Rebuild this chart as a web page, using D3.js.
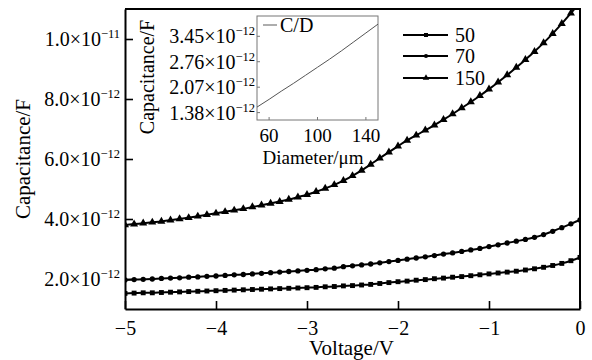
<!DOCTYPE html>
<html><head><meta charset="utf-8">
<script src="https://cdn.jsdelivr.net/npm/d3@7"></script>
<style>
body{margin:0;background:#fff}
text{font-family:"Liberation Serif","Times New Roman",serif;fill:#000}
</style>
</head><body>
<svg id="c" width="592" height="360"></svg>
<script>
// Voltage (V)
const voltage = [-5.0,-4.9,-4.8,-4.7,-4.6,-4.5,-4.4,-4.3,-4.2,-4.1,-4.0,-3.9,-3.8,-3.7,-3.6,-3.5,-3.4,-3.3,-3.2,-3.1,-3.0,-2.9,-2.8,-2.7,-2.6,-2.5,-2.4,-2.3,-2.2,-2.1,-2.0,-1.9,-1.8,-1.7,-1.6,-1.5,-1.4,-1.3,-1.2,-1.1,-1.0,-0.9,-0.8,-0.7,-0.6,-0.5,-0.4,-0.3,-0.2,-0.1,0.0];
// Capacitance in units of 1e-12 F
const cap50 = [1.52,1.53,1.54,1.54,1.55,1.56,1.57,1.58,1.59,1.60,1.61,1.62,1.63,1.64,1.65,1.66,1.67,1.68,1.69,1.70,1.71,1.72,1.74,1.75,1.77,1.78,1.80,1.82,1.85,1.88,1.91,1.93,1.96,1.98,2.01,2.03,2.06,2.08,2.11,2.14,2.17,2.20,2.23,2.26,2.30,2.34,2.39,2.45,2.52,2.61,2.72];
const cap70 = [1.97,1.98,1.99,2.00,2.02,2.03,2.04,2.06,2.07,2.09,2.10,2.12,2.14,2.15,2.17,2.19,2.21,2.23,2.25,2.27,2.29,2.31,2.34,2.36,2.41,2.44,2.47,2.50,2.54,2.58,2.62,2.66,2.70,2.74,2.78,2.83,2.87,2.92,2.97,3.02,3.08,3.14,3.20,3.26,3.32,3.39,3.48,3.59,3.71,3.84,3.97];
const cap150 = [3.80,3.83,3.86,3.89,3.92,3.96,4.00,4.04,4.09,4.14,4.19,4.24,4.29,4.34,4.40,4.46,4.52,4.58,4.65,4.73,4.81,4.91,5.02,5.14,5.28,5.44,5.62,5.82,6.03,6.23,6.43,6.62,6.79,6.96,7.13,7.31,7.50,7.70,7.90,8.11,8.33,8.56,8.80,9.05,9.31,9.58,9.87,10.18,10.51,10.86,11.22];
const seriesNames = ["50","70","150"];
const seriesSymbols = ["square","circle","triangle"];

const xTicks = [-5,-4,-3,-2,-1,0];
const xTickLabels = ["\u22125","\u22124","\u22123","\u22122","\u22121","0"];
const yTicks = [2,4,6,8,10];
const yTickMant = ["2.0\u00d710","4.0\u00d710","6.0\u00d710","8.0\u00d710","1.0\u00d710"];
const yTickExp = ["\u221212","\u221212","\u221212","\u221212","\u221211"];

// Inset: capacitance/diameter
const diameter = [50,60,70,80,90,100,110,120,130,140,150];
const insetCap = [1.53,1.74,1.96,2.17,2.39,2.61,2.83,3.06,3.30,3.54,3.78];
const insetXTicks = [60,100,140];
const insetYTicks = [1.38,2.07,2.76,3.45];
const insetYMant = ["1.38\u00d710","2.07\u00d710","2.76\u00d710","3.45\u00d710"];
const insetYExp = ["\u221212","\u221212","\u221212","\u221212"];

const FS = 20, FE = 12.5;
const svg = d3.select("#c");
const L=125,R=580,T=9,B=309;
const x = d3.scaleLinear().domain([-5,0]).range([L,R]);
const y = d3.scaleLinear().domain([1,11]).range([B,T]);

svg.append("clipPath").attr("id","clip").append("rect")
  .attr("x",L).attr("y",T).attr("width",R-L).attr("height",B-T);

// frame (top, right)
svg.append("path").attr("d",`M${L},${T}H${R}V${B}`).attr("fill","none").attr("stroke","#000").attr("stroke-width",2);

// x axis
const gx = svg.append("g").attr("transform",`translate(0,${B})`)
  .call(d3.axisBottom(x).tickValues(xTicks).tickSize(-8).tickSizeOuter(0).tickPadding(12)
  .tickFormat((d,i)=>xTickLabels[i]));
gx.select(".domain").attr("stroke-width",2);
gx.selectAll(".tick line").attr("stroke-width",1.6);
gx.selectAll("text").attr("font-size",FS).attr("font-family","Liberation Serif");

// y axis
const gy = svg.append("g").attr("transform",`translate(${L},0)`)
  .call(d3.axisLeft(y).tickValues(yTicks).tickSize(-8).tickSizeOuter(0).tickFormat(""));
gy.select(".domain").attr("stroke-width",2);
gy.selectAll(".tick line").attr("stroke-width",1.6);
yTicks.forEach((v,i)=>{
  const t = svg.append("text").attr("x",120).attr("y",y(v)+7).attr("text-anchor","end").attr("font-size",FS);
  t.append("tspan").text(yTickMant[i]);
  t.append("tspan").attr("font-size",FE).attr("dy",-8).text(yTickExp[i]);
});

// axis titles
svg.append("text").attr("x",(L+R)/2-1).attr("y",355).attr("text-anchor","middle").attr("font-size",21).text("Voltage/V");
svg.append("text").attr("transform",`translate(30,${(T+B)/2}) rotate(-90)`).attr("text-anchor","middle").attr("font-size",21).text("Capacitance/F");

// series
const allSeries = [cap50,cap70,cap150];
const line = d3.line().x((d,i)=>x(voltage[i])).y(d=>y(d)).curve(d3.curveMonotoneX);
const symType = {square:d3.symbolSquare,circle:d3.symbolCircle,triangle:d3.symbolTriangle};
const symSize = {square:24,circle:22,triangle:28};
const legSize = {square:16,circle:14,triangle:18};
const plot = svg.append("g").attr("clip-path","url(#clip)");
allSeries.forEach((s,k)=>{
  plot.append("path").datum(s).attr("d",line).attr("fill","none").attr("stroke","#000").attr("stroke-width",2);
  const sym = d3.symbol().type(symType[seriesSymbols[k]]).size(symSize[seriesSymbols[k]]);
  plot.selectAll(null).data(s).enter().append("path")
    .attr("d",sym).attr("transform",(d,i)=>`translate(${x(voltage[i])},${y(d)})`).attr("fill","#000");
});

// legend
const legY = [35,56,78];
seriesNames.forEach((n,k)=>{
  svg.append("line").attr("x1",403).attr("x2",448).attr("y1",legY[k]).attr("y2",legY[k]).attr("stroke","#000").attr("stroke-width",2);
  const sym = d3.symbol().type(symType[seriesSymbols[k]]).size(legSize[seriesSymbols[k]]);
  svg.append("path").attr("d",sym).attr("transform",`translate(426,${legY[k]})`).attr("fill","#000");
  svg.append("text").attr("x",455).attr("y",legY[k]+7).attr("font-size",FS).text(n);
});

// inset
const iL=257,iR=378,iT=16,iB=120;
const ix = d3.scaleLinear().domain([50,150]).range([iL,iR]);
const iy = d3.scaleLinear().domain([1.18,4.0]).range([iB,iT]);
svg.append("rect").attr("x",iL).attr("y",iT).attr("width",iR-iL).attr("height",iB-iT)
  .attr("fill","#fff").attr("stroke","#777").attr("stroke-width",1);
insetXTicks.forEach(v=>{
  svg.append("line").attr("x1",ix(v)).attr("x2",ix(v)).attr("y1",iB).attr("y2",iB-3).attr("stroke","#777");
  svg.append("text").attr("x",ix(v)).attr("y",142).attr("text-anchor","middle").attr("font-size",19).text(v);
});
insetYTicks.forEach((v,i)=>{
  svg.append("line").attr("x1",iL).attr("x2",iL+3).attr("y1",iy(v)).attr("y2",iy(v)).attr("stroke","#777");
  const t = svg.append("text").attr("x",255).attr("y",iy(v)+7).attr("text-anchor","end").attr("font-size",FS);
  t.append("tspan").text(insetYMant[i]);
  t.append("tspan").attr("font-size",FE).attr("dy",-8).text(insetYExp[i]);
});
svg.append("path").datum(insetCap)
  .attr("d",d3.line().x((d,i)=>ix(diameter[i])).y(d=>iy(d)))
  .attr("fill","none").attr("stroke","#555").attr("stroke-width",1);
svg.append("line").attr("x1",263).attr("x2",277).attr("y1",25).attr("y2",25).attr("stroke","#777").attr("stroke-width",1.2);
svg.append("text").attr("x",280).attr("y",32).attr("font-size",FS).text("C/D");
svg.append("text").attr("x",313).attr("y",164).attr("text-anchor","middle").attr("font-size",19).text("Diameter/\u03bcm");
svg.append("text").attr("transform",`translate(154,77) rotate(-90)`).attr("text-anchor","middle").attr("font-size",20).text("Capacitance/F");
</script>
</body></html>
